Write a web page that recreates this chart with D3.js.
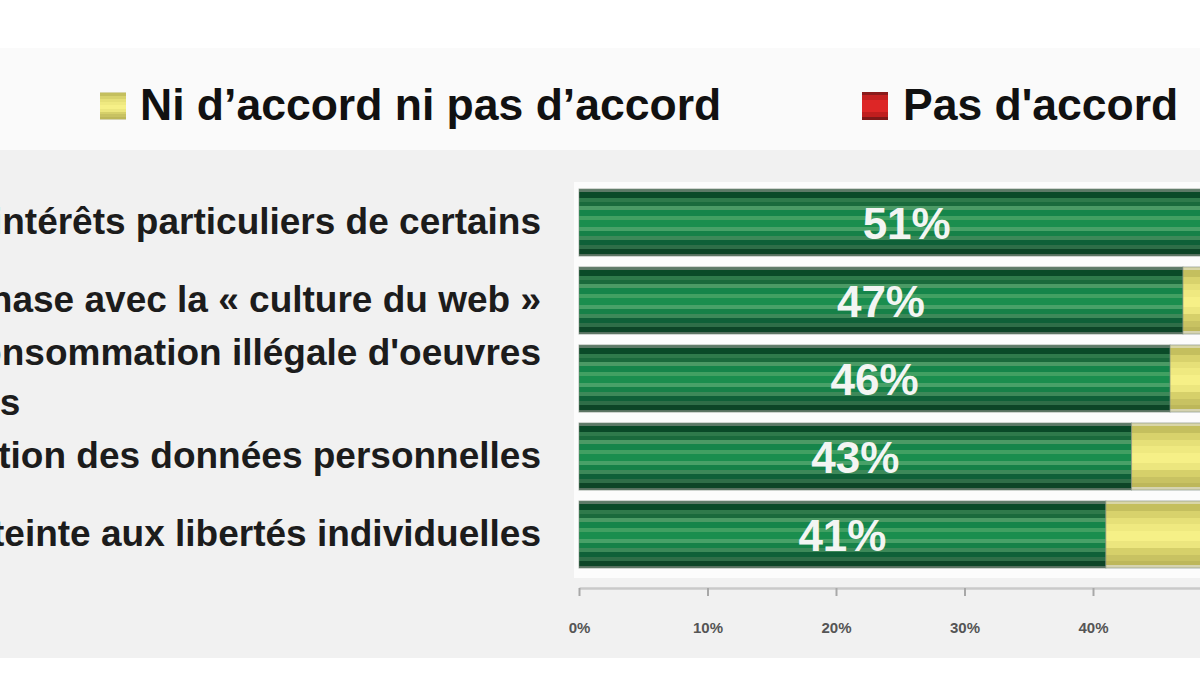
<!DOCTYPE html>
<html>
<head>
<meta charset="utf-8">
<script src="https://cdn.jsdelivr.net/npm/d3@7"></script>
<style>
  html, body { margin: 0; padding: 0; background: #ffffff; overflow: hidden; }
  svg { display: block; }
</style>
</head>
<body>
<svg id="chart" width="1200" height="675"></svg>
<script>
// ---------------- DATA ----------------
const categories = [
  ["Hadopi sert avant tout les intérêts particuliers de certains"],
  ["Hadopi est en déphase avec la « culture du web »"],
  ["Hadopi va réduire la consommation illégale d'oeuvres", "culturelles et artistiques"],
  ["Hadopi menace la protection des données personnelles"],
  ["Hadopi porte atteinte aux libertés individuelles"]
];
const seriesKeys = ["agree", "neutral", "disagree"];
const seriesNames = ["D'accord", "Ni d’accord ni pas d’accord", "Pas d'accord"];
const agree    = [51, 47, 46, 43, 41];
const neutral  = [17, 20, 19, 23, 22];   // mostly outside the visible crop (estimated)
const disagree = [32, 33, 35, 34, 37];   // outside the visible crop (estimated)
const tickValues = [0, 10, 20, 30, 40, 50];
const legendItems = [1, 2];               // indices into seriesNames shown in the legend

// ---------------- SETUP ----------------
const W = 1200, H = 675;
const svg = d3.select("#chart");
const FONT = "'Liberation Sans', Arial, sans-serif";

// background bands
svg.append("rect").attr("width", W).attr("height", H).attr("fill", "#ffffff");
svg.append("rect").attr("y", 48).attr("width", W).attr("height", 102).attr("fill", "#fafafa");
svg.append("rect").attr("y", 150).attr("width", W).attr("height", 508).attr("fill", "#f1f1f1");
svg.append("rect").attr("x", 574).attr("y", 182).attr("width", W - 574).attr("height", 396).attr("fill", "#fcfcfc");

// gradients (striped glossy look)
const defs = svg.append("defs");
function striped(id, stops) {
  const g = defs.append("linearGradient").attr("id", id)
    .attr("x1", 0).attr("y1", 0).attr("x2", 0).attr("y2", 1);
  stops.forEach(([from, to, color]) => {
    g.append("stop").attr("offset", from).attr("stop-color", color);
    g.append("stop").attr("offset", to).attr("stop-color", color);
  });
}
striped("grad-agree", [
  [0.00, 0.04, "#5d7a67"], [0.04, 0.14, "#0a4a28"], [0.14, 0.20, "#2f7a4b"],
  [0.20, 0.26, "#1a6a3c"], [0.26, 0.32, "#4b9a65"], [0.32, 0.40, "#15854a"],
  [0.40, 0.46, "#41a062"], [0.46, 0.56, "#1a8e4e"], [0.56, 0.62, "#48a168"],
  [0.62, 0.70, "#168148"], [0.70, 0.76, "#3d8959"], [0.76, 0.84, "#0f6038"],
  [0.84, 0.90, "#2f6e48"], [0.90, 0.97, "#0d4527"], [0.97, 1.00, "#56705f"]
]);
striped("grad-neutral", [
  [0.00, 0.05, "#d9d6a8"], [0.05, 0.15, "#c4bf5e"], [0.15, 0.25, "#d8d26c"],
  [0.25, 0.35, "#e6e078"], [0.35, 0.45, "#efe980"], [0.45, 0.60, "#f6f087"],
  [0.60, 0.70, "#ece67e"], [0.70, 0.80, "#d6d06a"], [0.80, 0.90, "#c8c262"],
  [0.90, 0.96, "#bdb75a"], [0.96, 1.00, "#d5d3b0"]
]);
striped("grad-disagree", [
  [0.00, 0.10, "#8a1a1a"], [0.10, 0.30, "#c42020"], [0.30, 0.70, "#dd2626"],
  [0.70, 0.90, "#c01e1e"], [0.90, 1.00, "#7e1818"]
]);

// scales
const x = d3.scaleLinear().domain([0, 100]).range([579, 579 + 1285]);
const y = d3.scaleBand().domain(d3.range(categories.length))
  .range([183.5, 573.5]).paddingInner(0.14).paddingOuter(0.07);

// stacked data
const rows = categories.map((c, i) => ({ agree: agree[i], neutral: neutral[i], disagree: disagree[i] }));
const stacked = d3.stack().keys(seriesKeys)(rows);

// clip to the page
defs.append("clipPath").attr("id", "pageclip")
  .append("rect").attr("width", W).attr("height", H);
const plot = svg.append("g").attr("clip-path", "url(#pageclip)");

// bars
plot.selectAll("g.series").data(stacked).join("g")
  .attr("class", "series")
  .attr("fill", d => `url(#grad-${d.key})`)
  .selectAll("rect").data(d => d.map((v, i) => ({ v, i }))).join("rect")
  .attr("x", d => x(d.v[0]))
  .attr("y", d => y(d.i))
  .attr("width", d => x(d.v[1]) - x(d.v[0]))
  .attr("height", y.bandwidth())
  .attr("stroke", "rgba(120,135,122,0.55)")
  .attr("stroke-width", 1);

// value labels on the "agree" series
plot.selectAll("text.val").data(agree).join("text")
  .attr("class", "val")
  .attr("x", d => (x(0) + x(d)) / 2)
  .attr("y", (d, i) => y(i) + y.bandwidth() / 2 + 16)
  .attr("text-anchor", "middle")
  .attr("font-family", FONT)
  .attr("font-weight", "bold")
  .attr("font-size", 44)
  .attr("fill", "#f3f5f3")
  .text(d => d + "%");

// category labels (left-aligned block, right edge of first line at labelRight)
const labelRight = 541;
categories.forEach((lines, i) => {
  const c = y(i) + y.bandwidth() / 2;
  const n = lines.length;
  const g = svg.append("g").attr("class", "cat");
  const texts = lines.map((t, j) => g.append("text")
    .attr("y", c + 11 + (j - (n - 1) / 2) * 50)
    .attr("font-family", FONT)
    .attr("font-weight", "bold")
    .attr("font-size", 37)
    .attr("fill", "#1c1c1c")
    .text(t));
  const w0 = texts[0].node().getComputedTextLength();
  const x0 = labelRight - w0;
  texts.forEach(t => t.attr("x", x0));
});

// axis
const axis = svg.append("g").attr("transform", "translate(0,588)")
  .call(d3.axisBottom(x).tickValues(tickValues).tickSize(8).tickSizeOuter(0)
    .tickPadding(26).tickFormat(d => d + "%"));
axis.select(".domain").attr("stroke", "#c9c9c9").attr("stroke-width", 2.5);
axis.selectAll(".tick line").attr("stroke", "#a8a8a8").attr("stroke-width", 2);
axis.selectAll(".tick text")
  .attr("font-family", FONT)
  .attr("font-size", 15)
  .attr("font-weight", "bold")
  .attr("fill", "#555");

// legend
const legendPos = [{ sx: 100, tx: 140 }, { sx: 862, tx: 903 }];
const legend = svg.append("g").attr("class", "legend");
legendItems.forEach((k, j) => {
  legend.append("rect")
    .attr("x", legendPos[j].sx).attr("y", 92)
    .attr("width", 26).attr("height", 28)
    .attr("fill", `url(#grad-${seriesKeys[k]})`);
  legend.append("text")
    .attr("x", legendPos[j].tx).attr("y", 120)
    .attr("font-family", FONT)
    .attr("font-weight", "bold")
    .attr("font-size", 44.5)
    .attr("fill", "#111")
    .text(seriesNames[k]);
});
</script>
</body>
</html>
